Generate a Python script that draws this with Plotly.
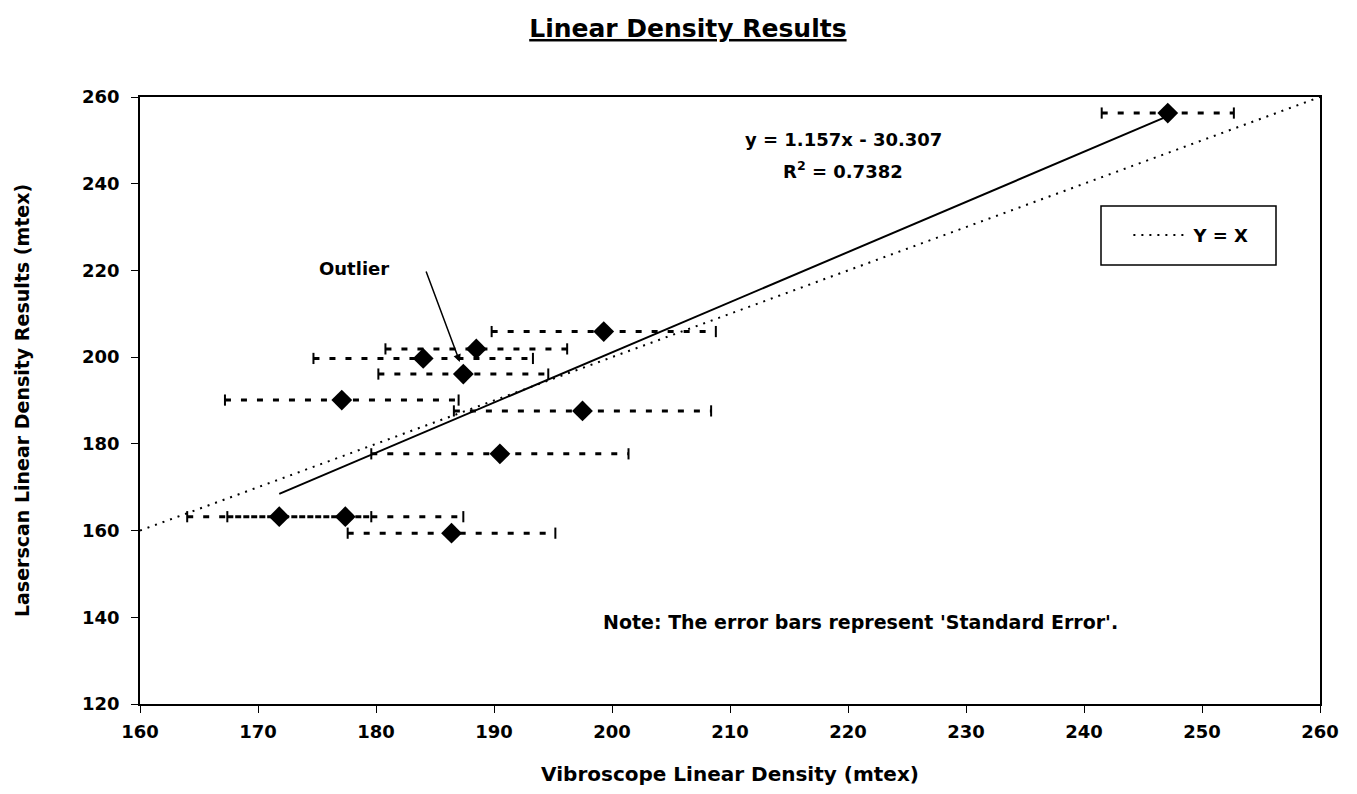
import plotly.graph_objects as go

# ---- data ----
vib_x = [247.1, 199.3, 188.5, 184.0, 187.4, 177.1, 197.5, 190.5, 171.8, 177.4, 186.4]
laser_y = [256.3, 205.9, 201.9, 199.7, 196.1, 190.1, 187.6, 177.7, 163.2, 163.2, 159.4]
vib_se = [5.6, 9.5, 7.7, 9.3, 7.2, 9.9, 10.9, 10.9, 7.8, 10.0, 8.8]

trend_slope = 1.157
trend_intercept = -30.307
trend_r2 = 0.7382

x_ticks = [160, 170, 180, 190, 200, 210, 220, 230, 240, 250, 260]
y_ticks = [120, 140, 160, 180, 200, 220, 240, 260]

FONT = "'DejaVu Sans', Arial, sans-serif"

fig = go.Figure()

# dashed horizontal error bars with caps
ex, ey = [], []
for x, y, e in zip(vib_x, laser_y, vib_se):
    ex += [x - e, x + e, None]
    ey += [y, y, None]
fig.add_trace(go.Scatter(
    x=ex, y=ey, mode="lines", showlegend=False, hoverinfo="skip",
    line=dict(color="black", width=3, dash="6px,10px")))
cx, cy = [], []
for x, y, e in zip(vib_x, laser_y, vib_se):
    cx += [x - e, x + e]
    cy += [y, y]
fig.add_trace(go.Scatter(
    x=cx, y=cy, mode="markers", showlegend=False, hoverinfo="skip",
    marker=dict(symbol="line-ns", size=8, line=dict(color="black", width=2))))

# Y = X reference line
fig.add_trace(go.Scatter(
    x=[x_ticks[0], x_ticks[-1]], y=[x_ticks[0], x_ticks[-1]], mode="lines",
    name="Y = X", showlegend=True,
    line=dict(color="black", width=2, dash="2px,6px")))

# linear trendline
tx = [min(vib_x), max(vib_x)]
ty = [trend_slope * v + trend_intercept for v in tx]
fig.add_trace(go.Scatter(
    x=tx, y=ty, mode="lines", showlegend=False,
    line=dict(color="black", width=2)))

# data points
fig.add_trace(go.Scatter(
    x=vib_x, y=laser_y, mode="markers", showlegend=False,
    marker=dict(symbol="diamond", size=16, color="black")))

axis_common = dict(
    showgrid=False, zeroline=False, showline=True, linecolor="black", linewidth=1.5,
    mirror=True, ticks="outside", ticklen=7, tickcolor="black", tickwidth=1,
    automargin=False,
    tickfont=dict(family=FONT, size=18, color="black", weight="bold"),
)

fig.update_layout(
    width=1341, height=778,
    margin=dict(l=132, r=29, t=89, b=82),
    paper_bgcolor="white", plot_bgcolor="white",
    title=dict(text="<u>Linear Density Results</u>", x=0.507, xanchor="center",
               y=0.974, yanchor="middle",
               font=dict(family=FONT, size=25, color="black", weight="bold")),
    xaxis=dict(range=[160, 260], tickvals=x_ticks, ticklabelstandoff=4, **axis_common,
               title=dict(text="Vibroscope Linear Density (mtex)", standoff=32,
                          font=dict(family=FONT, size=20, color="black", weight="bold"))),
    yaxis=dict(range=[120, 260], tickvals=y_ticks, ticklabelstandoff=8, **axis_common,
               title=dict(text="Laserscan Linear Density Results (mtex)", standoff=47,
                          font=dict(family=FONT, size=19, color="black", weight="bold"))),
    legend=dict(x=0.891, y=0.772, xanchor="center", yanchor="middle",
                bgcolor="rgba(0,0,0,0)", borderwidth=0,
                font=dict(family=FONT, size=18, color="black", weight="bold"),
                itemwidth=55),
    showlegend=True,
)

# legend frame
fig.add_shape(type="rect", xref="paper", yref="paper",
              x0=(1101 - 140) / 1180, x1=(1276 - 140) / 1180,
              y0=(704 - 265) / 607, y1=(704 - 206) / 607,
              line=dict(color="black", width=1.5), fillcolor="rgba(0,0,0,0)")

# trendline equation
fig.add_annotation(x=219.6, y=250.1, xref="x", yref="y", showarrow=False,
                   text=f"y = {trend_slope}x - {abs(trend_intercept)}",
                   font=dict(family=FONT, size=18, color="black", weight="bold"))
fig.add_annotation(x=219.6, y=243.2, xref="x", yref="y", showarrow=False,
                   text=f"R<sup>2</sup> = {trend_r2}",
                   font=dict(family=FONT, size=18, color="black", weight="bold"))

# outlier label and arrow
fig.add_annotation(x=178.1, y=220.5, xref="x", yref="y", showarrow=False,
                   text="Outlier",
                   font=dict(family=FONT, size=18, color="black", weight="bold"))
fig.add_annotation(x=187.1, y=198.9, xref="x", yref="y", ax=184.2, ay=220.1,
                   axref="x", ayref="y", text="", showarrow=True,
                   arrowhead=2, arrowsize=1, arrowwidth=1.5, arrowcolor="black")

# note
fig.add_annotation(x=221.1, y=138.9, xref="x", yref="y", showarrow=False,
                   text="Note: The error bars represent 'Standard Error'.",
                   font=dict(family=FONT, size=19, color="black", weight="bold"))

fig.write_html("out.html")
